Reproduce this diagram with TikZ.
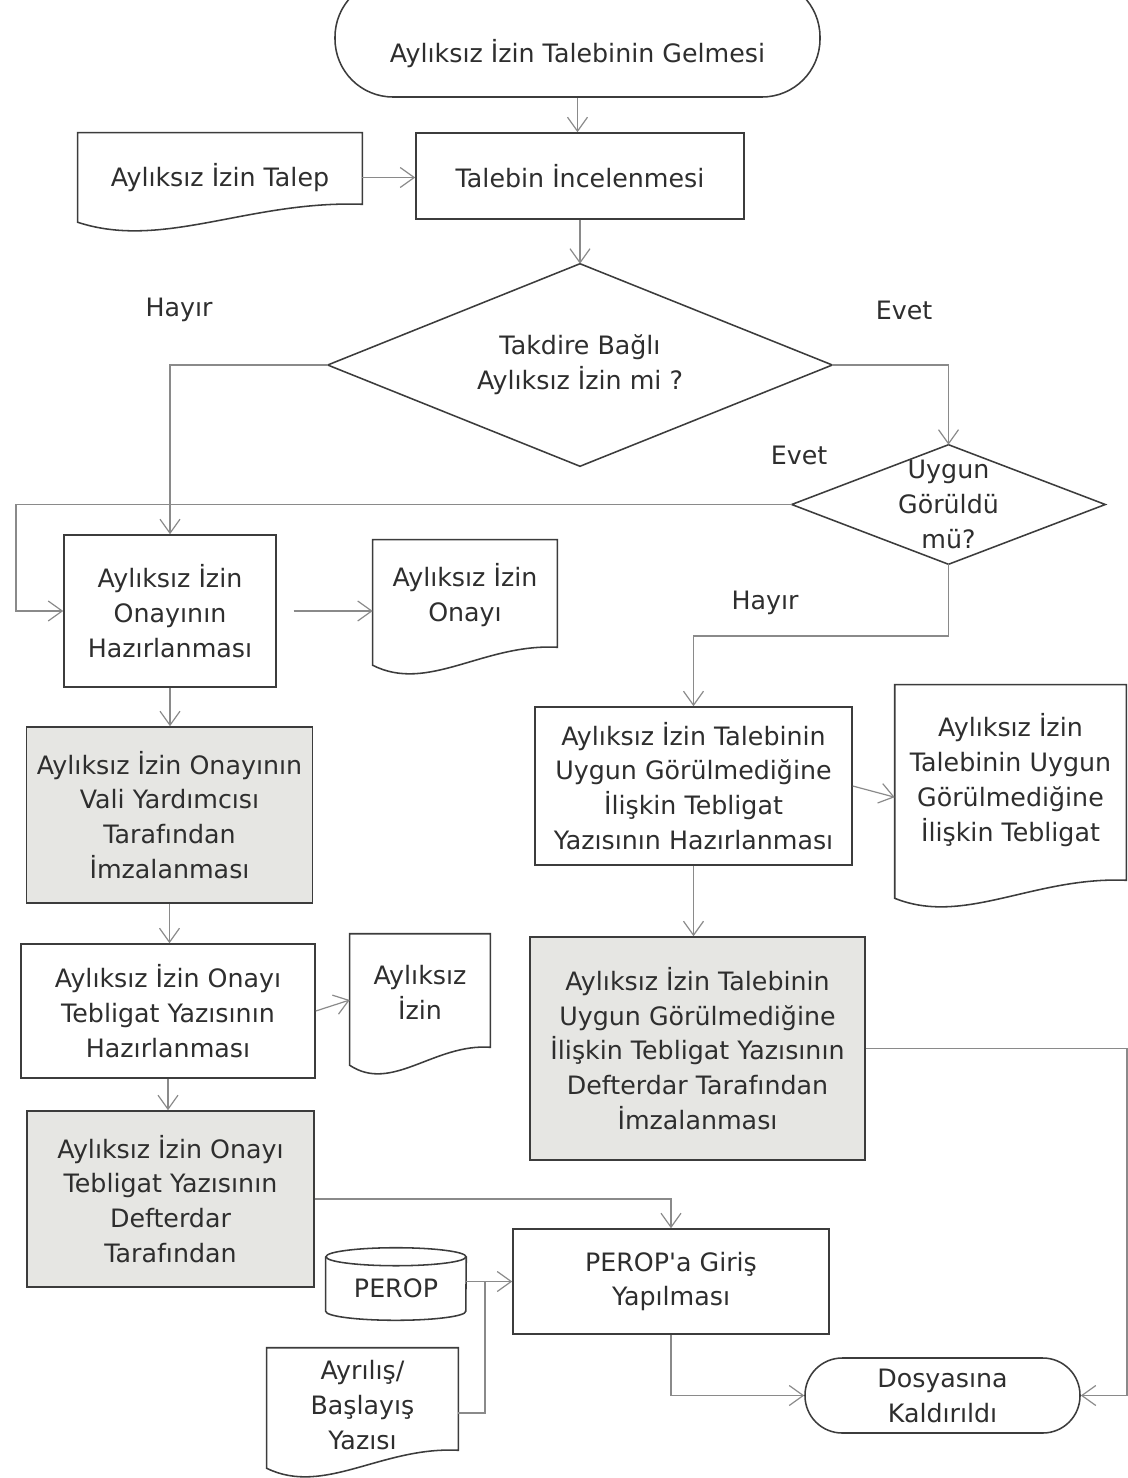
\documentclass[tikz,border=0pt]{standalone}
\usepackage{fontspec}
\setmainfont{DejaVu Sans}
\usetikzlibrary{arrows.meta,calc}
\definecolor{lc}{HTML}{3C3C3C}
\definecolor{cc}{HTML}{8A8A8A}
\definecolor{gf}{HTML}{E6E6E3}
\definecolor{tc}{HTML}{2E2E2E}
\newcommand\docout[2]{\draw[shp] (#1.north west) -- ($(#1.south west)+(0,#2)$) .. controls ($(#1.south west)!0.3!(#1.south east)+(0,#2+28)$) and ($(#1.south west)!0.6!(#1.south east)+(0,#2-22)$) .. ($(#1.south east)+(0,#2-18)$) -- (#1.north east) -- cycle;}
\tikzset{
  shp/.style={draw=lc, line width=1.1pt},
  proc/.style={shp, rectangle, inner sep=0pt, align=center, text=tc},
  gproc/.style={proc, fill=gf},
  term/.style={proc, rounded corners=#1},
  docn/.style={rectangle, inner sep=0pt, align=center, text=tc},
  sz/.style 2 args={minimum width=#1*0.025cm, minimum height=#2*0.025cm},
  conn/.style={draw=cc, line width=0.85pt, -{Straight Barb[length=3.5mm,width=5mm]}},
  cline/.style={draw=cc, line width=0.85pt},
  lbl/.style={text=tc, inner sep=0pt}
}
\begin{document}
\begin{tikzpicture}[x=0.025cm, y=-0.025cm, font=\fontsize{18}{24.8}\selectfont]
\fill[white] (0,0) rectangle (1128,1478);
\useasboundingbox (0,0) rectangle (1128,1478);

% nodes
\node[term=1.45cm, sz={485}{118}, text height=1.375cm, text depth=0.15cm] (start) at (577.5,38) {Aylıksız İzin Talebinin Gelmesi};
\node[proc, sz={328}{86}] (talebin) at (580,176) {Talebin İncelenmesi};
\node[docn, sz={284}{89}] (talep) at (220,177.5) {Aylıksız İzin Talep};
\node[docn, sz={504}{202}] (d1) at (580,365) {Takdire Bağlı\\Aylıksız İzin mi ?};
\node[docn, sz={313}{119}] (d2) at (948.5,504.5) {Uygun\\Görüldü\\mü?};
\node[proc, sz={212}{152}] (box1) at (170,611) {Aylıksız İzin\\Onayının\\Hazırlanması};
\node[docn, sz={184}{110}] (onay) at (465,595) {Aylıksız İzin\\Onayı};
\node[gproc, sz={286}{176}] (l2) at (169.5,815) {Aylıksız İzin Onayının\\Vali Yardımcısı\\Tarafından\\İmzalanması};
\node[proc, sz={294}{134}] (l3) at (168,1011) {Aylıksız İzin Onayı\\Tebligat Yazısının\\Hazırlanması};
\node[docn, sz={140}{116}] (izin) at (420,992) {Aylıksız\\İzin};
\node[gproc, sz={287}{176}] (l4) at (170.5,1199) {Aylıksız İzin Onayı\\Tebligat Yazısının\\Defterdar\\Tarafından};
\node[proc, sz={317}{158}] (r1) at (693.5,786) {Aylıksız İzin Talebinin\\Uygun Görülmediğine\\İlişkin Tebligat\\Yazısının Hazırlanması};
\node[docn, sz={231}{190}] (docr) at (1010.5,780) {Aylıksız İzin\\Talebinin Uygun\\Görülmediğine\\İlişkin Tebligat};
\node[gproc, sz={335}{223}] (r2) at (697.5,1048.5) {Aylıksız İzin Talebinin\\Uygun Görülmediğine\\İlişkin Tebligat Yazısının\\Defterdar Tarafından\\İmzalanması};
\node[docn, sz={140}{63}] (perop) at (396,1288.5) {PEROP};
\node[docn, sz={191}{114}] (ayr) at (362.5,1405) {Ayrılış/\\Başlayış\\Yazısı};
\node[proc, sz={316}{105}] (giris) at (671,1281.5) {PEROP\textquotesingle a Giriş\\Yapılması};
\node[term=0.93cm, sz={275}{75}] (dos) at (942.5,1395.5) {Dosyasına\\Kaldırıldı};

% labels
\node[lbl] (h1) at (179,310) {Hayır};
\node[lbl] (e1) at (904,310) {Evet};
\node[lbl] (e2) at (799,455) {Evet};
\node[lbl] (h2) at (765,603) {Hayır};

% shape outlines
\draw[shp] (d1.north) -- (d1.east) -- (d1.south) -- (d1.west) -- cycle;
\draw[shp] (d2.north) -- (d2.east) -- (d2.south) -- (d2.west) -- cycle;
\docout{talep}{0}
\docout{onay}{15}
\docout{izin}{15}
\docout{docr}{23}
\docout{ayr}{6}
\draw[shp] (perop.north west) -- ([yshift=0.225cm]perop.south west) arc[start angle=180, end angle=360, x radius=1.75cm, y radius=0.225cm] -- (perop.north east);
\draw[shp] (perop.north) ellipse[x radius=1.75cm, y radius=0.225cm];

% coordinates
\coordinate (lx) at (16,0);
\coordinate (hy) at (0,636);
\coordinate (jn) at (485,0);
\coordinate (rx) at (1127,0);

% connectors
\draw[conn] (start.south) -- (start.south |- talebin.north);
\draw[conn] (talep.east) -- (talep.east -| talebin.west);
\draw[conn] (talebin.south) -- (d1.north);
\draw[conn] (d1.west) -| (box1.north);
\draw[conn] (d1.east) -| (d2.north);
\draw[conn] (d2.west) -- (d2.west -| lx) |- (box1.west);
\draw[conn, shorten <=0.42cm] (box1.east) -- (onay.west |- box1.east);
\draw[conn] (d2.south) -- (d2.south |- hy) -| (r1.north);
\draw[conn] (r1.east) -- ([yshift=-0.43cm]docr.west);
\draw[conn] (r1.south) -- (r1.south |- r2.north);
\draw[conn] (box1.south) -- (box1.south |- l2.north);
\draw[conn] (l2.south) -- (l2.south |- l3.north);
\draw[conn] (l3.south) -- (l3.south |- l4.north);
\draw[conn] (l3.east) -- ([yshift=-0.2cm]izin.west);
\draw[conn] (l4.east) -| (giris.north);
\draw[conn] (perop.east |- giris.west) -- (giris.west);
\draw[cline] ([yshift=-0.2cm]ayr.east) -| (jn |- giris.west);
\draw[conn] (giris.south) |- (dos.west);
\draw[conn] (r2.east) -- (r2.east -| rx) |- (dos.east);
\end{tikzpicture}
\end{document}
